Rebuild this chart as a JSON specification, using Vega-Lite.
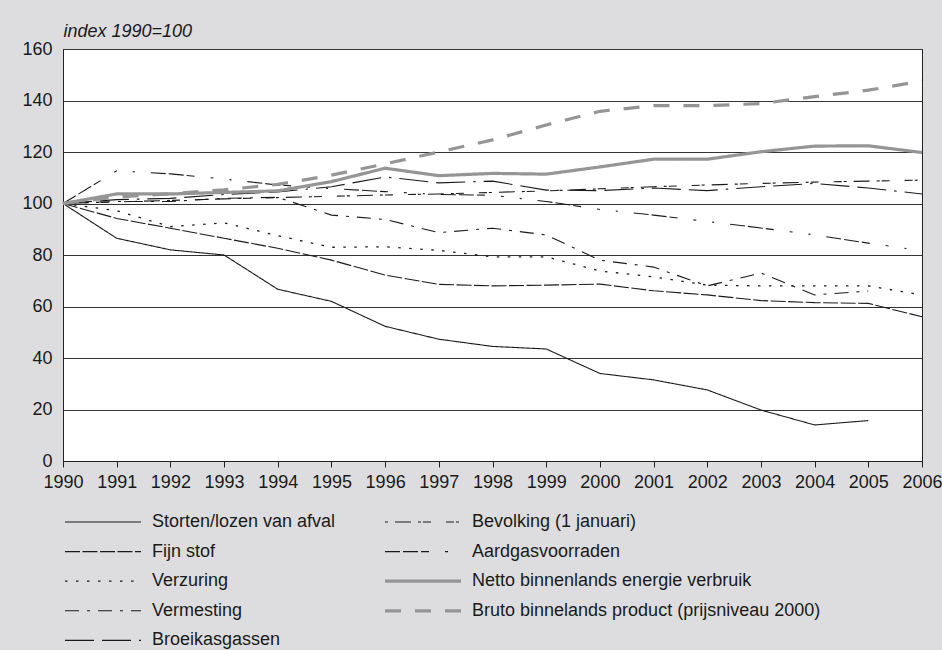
{
  "$schema": "https://vega.github.io/schema/vega-lite/v6.json",
  "width": 859,
  "height": 412,
  "autosize": {"type": "none"},
  "padding": {"left": 63, "top": 49, "right": 20, "bottom": 189},
  "background": "#dddddf",
  "config": {
    "font": "Liberation Sans",
    "view": {"fill": "white", "stroke": "#222222", "strokeWidth": 1}
  },
  "datasets": {
    "d": [
      {"s": "Storten/lozen van afval", "yr": 1990, "v": 100},
      {"s": "Storten/lozen van afval", "yr": 1991, "v": 86.5},
      {"s": "Storten/lozen van afval", "yr": 1992, "v": 82},
      {"s": "Storten/lozen van afval", "yr": 1993, "v": 80},
      {"s": "Storten/lozen van afval", "yr": 1994, "v": 66.7},
      {"s": "Storten/lozen van afval", "yr": 1995, "v": 62},
      {"s": "Storten/lozen van afval", "yr": 1996, "v": 52.3},
      {"s": "Storten/lozen van afval", "yr": 1997, "v": 47.3},
      {"s": "Storten/lozen van afval", "yr": 1998, "v": 44.5},
      {"s": "Storten/lozen van afval", "yr": 1999, "v": 43.5},
      {"s": "Storten/lozen van afval", "yr": 2000, "v": 34},
      {"s": "Storten/lozen van afval", "yr": 2001, "v": 31.5},
      {"s": "Storten/lozen van afval", "yr": 2002, "v": 27.6},
      {"s": "Storten/lozen van afval", "yr": 2003, "v": 19.8},
      {"s": "Storten/lozen van afval", "yr": 2004, "v": 14},
      {"s": "Storten/lozen van afval", "yr": 2005, "v": 15.7},

      {"s": "Fijn stof", "yr": 1990, "v": 100},
      {"s": "Fijn stof", "yr": 1991, "v": 94.2},
      {"s": "Fijn stof", "yr": 1992, "v": 90.4},
      {"s": "Fijn stof", "yr": 1993, "v": 86.5},
      {"s": "Fijn stof", "yr": 1994, "v": 82.6},
      {"s": "Fijn stof", "yr": 1995, "v": 78},
      {"s": "Fijn stof", "yr": 1996, "v": 72.2},
      {"s": "Fijn stof", "yr": 1997, "v": 68.6},
      {"s": "Fijn stof", "yr": 1998, "v": 68},
      {"s": "Fijn stof", "yr": 1999, "v": 68.3},
      {"s": "Fijn stof", "yr": 2000, "v": 68.7},
      {"s": "Fijn stof", "yr": 2001, "v": 66.1},
      {"s": "Fijn stof", "yr": 2002, "v": 64.5},
      {"s": "Fijn stof", "yr": 2003, "v": 62.3},
      {"s": "Fijn stof", "yr": 2004, "v": 61.5},
      {"s": "Fijn stof", "yr": 2005, "v": 61.2},
      {"s": "Fijn stof", "yr": 2006, "v": 56},

      {"s": "Verzuring", "yr": 1990, "v": 100},
      {"s": "Verzuring", "yr": 1991, "v": 97.2},
      {"s": "Verzuring", "yr": 1992, "v": 91},
      {"s": "Verzuring", "yr": 1993, "v": 92.5},
      {"s": "Verzuring", "yr": 1994, "v": 87.5},
      {"s": "Verzuring", "yr": 1995, "v": 83},
      {"s": "Verzuring", "yr": 1996, "v": 83.2},
      {"s": "Verzuring", "yr": 1997, "v": 81.8},
      {"s": "Verzuring", "yr": 1998, "v": 79.3},
      {"s": "Verzuring", "yr": 1999, "v": 79.3},
      {"s": "Verzuring", "yr": 2000, "v": 73.8},
      {"s": "Verzuring", "yr": 2001, "v": 71.5},
      {"s": "Verzuring", "yr": 2002, "v": 68.3},
      {"s": "Verzuring", "yr": 2003, "v": 68},
      {"s": "Verzuring", "yr": 2004, "v": 68},
      {"s": "Verzuring", "yr": 2005, "v": 68},
      {"s": "Verzuring", "yr": 2006, "v": 64.5},

      {"s": "Vermesting", "yr": 1990, "v": 100},
      {"s": "Vermesting", "yr": 1991, "v": 100.8},
      {"s": "Vermesting", "yr": 1992, "v": 100.8},
      {"s": "Vermesting", "yr": 1993, "v": 102},
      {"s": "Vermesting", "yr": 1994, "v": 102.4},
      {"s": "Vermesting", "yr": 1995, "v": 95.5},
      {"s": "Vermesting", "yr": 1996, "v": 93.8},
      {"s": "Vermesting", "yr": 1997, "v": 88.7},
      {"s": "Vermesting", "yr": 1998, "v": 90.4},
      {"s": "Vermesting", "yr": 1999, "v": 87.8},
      {"s": "Vermesting", "yr": 2000, "v": 78},
      {"s": "Vermesting", "yr": 2001, "v": 75.3},
      {"s": "Vermesting", "yr": 2002, "v": 68},
      {"s": "Vermesting", "yr": 2003, "v": 73},
      {"s": "Vermesting", "yr": 2004, "v": 64.5},
      {"s": "Vermesting", "yr": 2005, "v": 66},

      {"s": "Broeikasgassen", "yr": 1990, "v": 100},
      {"s": "Broeikasgassen", "yr": 1991, "v": 101.5},
      {"s": "Broeikasgassen", "yr": 1992, "v": 102},
      {"s": "Broeikasgassen", "yr": 1993, "v": 103.5},
      {"s": "Broeikasgassen", "yr": 1994, "v": 104.5},
      {"s": "Broeikasgassen", "yr": 1995, "v": 106.5},
      {"s": "Broeikasgassen", "yr": 1996, "v": 110.3},
      {"s": "Broeikasgassen", "yr": 1997, "v": 108},
      {"s": "Broeikasgassen", "yr": 1998, "v": 108.7},
      {"s": "Broeikasgassen", "yr": 1999, "v": 105.2},
      {"s": "Broeikasgassen", "yr": 2000, "v": 105},
      {"s": "Broeikasgassen", "yr": 2001, "v": 106},
      {"s": "Broeikasgassen", "yr": 2002, "v": 105},
      {"s": "Broeikasgassen", "yr": 2003, "v": 106.5},
      {"s": "Broeikasgassen", "yr": 2004, "v": 107.8},
      {"s": "Broeikasgassen", "yr": 2005, "v": 106},
      {"s": "Broeikasgassen", "yr": 2006, "v": 103.7},

      {"s": "Bevolking (1 januari)", "yr": 1990, "v": 100},
      {"s": "Bevolking (1 januari)", "yr": 1991, "v": 100.6},
      {"s": "Bevolking (1 januari)", "yr": 1992, "v": 101.2},
      {"s": "Bevolking (1 januari)", "yr": 1993, "v": 101.8},
      {"s": "Bevolking (1 januari)", "yr": 1994, "v": 102.3},
      {"s": "Bevolking (1 januari)", "yr": 1995, "v": 102.8},
      {"s": "Bevolking (1 januari)", "yr": 1996, "v": 103.3},
      {"s": "Bevolking (1 januari)", "yr": 1997, "v": 103.7},
      {"s": "Bevolking (1 januari)", "yr": 1998, "v": 104.3},
      {"s": "Bevolking (1 januari)", "yr": 1999, "v": 104.9},
      {"s": "Bevolking (1 januari)", "yr": 2000, "v": 105.7},
      {"s": "Bevolking (1 januari)", "yr": 2001, "v": 106.5},
      {"s": "Bevolking (1 januari)", "yr": 2002, "v": 107.2},
      {"s": "Bevolking (1 januari)", "yr": 2003, "v": 107.8},
      {"s": "Bevolking (1 januari)", "yr": 2004, "v": 108.3},
      {"s": "Bevolking (1 januari)", "yr": 2005, "v": 108.7},
      {"s": "Bevolking (1 januari)", "yr": 2006, "v": 109.1},

      {"s": "Aardgasvoorraden", "yr": 1990, "v": 100},
      {"s": "Aardgasvoorraden", "yr": 1991, "v": 112.7},
      {"s": "Aardgasvoorraden", "yr": 1992, "v": 111.5},
      {"s": "Aardgasvoorraden", "yr": 1993, "v": 109.5},
      {"s": "Aardgasvoorraden", "yr": 1994, "v": 107.2},
      {"s": "Aardgasvoorraden", "yr": 1995, "v": 105.8},
      {"s": "Aardgasvoorraden", "yr": 1996, "v": 104.6},
      {"s": "Aardgasvoorraden", "yr": 1997, "v": 103.5},
      {"s": "Aardgasvoorraden", "yr": 1998, "v": 103.2},
      {"s": "Aardgasvoorraden", "yr": 1999, "v": 100.8},
      {"s": "Aardgasvoorraden", "yr": 2000, "v": 97.7},
      {"s": "Aardgasvoorraden", "yr": 2001, "v": 95.5},
      {"s": "Aardgasvoorraden", "yr": 2002, "v": 93},
      {"s": "Aardgasvoorraden", "yr": 2003, "v": 90.5},
      {"s": "Aardgasvoorraden", "yr": 2004, "v": 87.8},
      {"s": "Aardgasvoorraden", "yr": 2005, "v": 84.6},
      {"s": "Aardgasvoorraden", "yr": 2006, "v": 81.7},

      {"s": "Netto binnenlands energie verbruik", "yr": 1990, "v": 100},
      {"s": "Netto binnenlands energie verbruik", "yr": 1991, "v": 103.7},
      {"s": "Netto binnenlands energie verbruik", "yr": 1992, "v": 103.7},
      {"s": "Netto binnenlands energie verbruik", "yr": 1993, "v": 104.3},
      {"s": "Netto binnenlands energie verbruik", "yr": 1994, "v": 104.9},
      {"s": "Netto binnenlands energie verbruik", "yr": 1995, "v": 108.5},
      {"s": "Netto binnenlands energie verbruik", "yr": 1996, "v": 113.7},
      {"s": "Netto binnenlands energie verbruik", "yr": 1997, "v": 110.8},
      {"s": "Netto binnenlands energie verbruik", "yr": 1998, "v": 111.7},
      {"s": "Netto binnenlands energie verbruik", "yr": 1999, "v": 111.4},
      {"s": "Netto binnenlands energie verbruik", "yr": 2000, "v": 114.2},
      {"s": "Netto binnenlands energie verbruik", "yr": 2001, "v": 117.2},
      {"s": "Netto binnenlands energie verbruik", "yr": 2002, "v": 117.2},
      {"s": "Netto binnenlands energie verbruik", "yr": 2003, "v": 120.1},
      {"s": "Netto binnenlands energie verbruik", "yr": 2004, "v": 122.3},
      {"s": "Netto binnenlands energie verbruik", "yr": 2005, "v": 122.4},
      {"s": "Netto binnenlands energie verbruik", "yr": 2006, "v": 119.8},

      {"s": "Bruto binnelands product (prijsniveau 2000)", "yr": 1990, "v": 100},
      {"s": "Bruto binnelands product (prijsniveau 2000)", "yr": 1991, "v": 102.5},
      {"s": "Bruto binnelands product (prijsniveau 2000)", "yr": 1992, "v": 103.8},
      {"s": "Bruto binnelands product (prijsniveau 2000)", "yr": 1993, "v": 105.3},
      {"s": "Bruto binnelands product (prijsniveau 2000)", "yr": 1994, "v": 107.4},
      {"s": "Bruto binnelands product (prijsniveau 2000)", "yr": 1995, "v": 111},
      {"s": "Bruto binnelands product (prijsniveau 2000)", "yr": 1996, "v": 115.4},
      {"s": "Bruto binnelands product (prijsniveau 2000)", "yr": 1997, "v": 120},
      {"s": "Bruto binnelands product (prijsniveau 2000)", "yr": 1998, "v": 124.7},
      {"s": "Bruto binnelands product (prijsniveau 2000)", "yr": 1999, "v": 130.5},
      {"s": "Bruto binnelands product (prijsniveau 2000)", "yr": 2000, "v": 135.8},
      {"s": "Bruto binnelands product (prijsniveau 2000)", "yr": 2001, "v": 138},
      {"s": "Bruto binnelands product (prijsniveau 2000)", "yr": 2002, "v": 138},
      {"s": "Bruto binnelands product (prijsniveau 2000)", "yr": 2003, "v": 138.8},
      {"s": "Bruto binnelands product (prijsniveau 2000)", "yr": 2004, "v": 141.5},
      {"s": "Bruto binnelands product (prijsniveau 2000)", "yr": 2005, "v": 144},
      {"s": "Bruto binnelands product (prijsniveau 2000)", "yr": 2006, "v": 147.6}
    ]
  },
  "data": {"name": "d"},
  "mark": {"type": "line", "strokeCap": "butt", "strokeJoin": "miter"},
  "encoding": {
    "x": {
      "field": "yr",
      "type": "quantitative",
      "scale": {"domain": [1990, 2006], "nice": false, "zero": false},
      "axis": {
        "title": null,
        "values": [1990,1991,1992,1993,1994,1995,1996,1997,1998,1999,2000,2001,2002,2003,2004,2005,2006],
        "format": "d",
        "grid": false,
        "domainColor": "#222222",
        "tickColor": "#222222",
        "tickSize": 6,
        "labelFontSize": 18,
        "labelColor": "#1a1a1a",
        "labelPadding": 6,
        "labelFlush": false,
        "labelOverlap": false
      }
    },
    "y": {
      "field": "v",
      "type": "quantitative",
      "scale": {"domain": [0, 160], "nice": false},
      "axis": {
        "title": "index 1990=100",
        "titleAngle": 0,
        "titleAlign": "left",
        "titleBaseline": "alphabetic",
        "titleX": 0,
        "titleY": -13,
        "titleFontStyle": "italic",
        "titleFontWeight": "normal",
        "titleFontSize": 18,
        "titleColor": "#1a1a1a",
        "values": [0, 20, 40, 60, 80, 100, 120, 140, 160],
        "grid": true,
        "gridColor": "#333333",
        "gridWidth": 1,
        "ticks": false,
        "domainColor": "#222222",
        "labelFontSize": 18,
        "labelColor": "#1a1a1a",
        "labelPadding": 11
      }
    },
    "color": {
      "field": "s",
      "type": "nominal",
      "scale": {
        "domain": [
          "Storten/lozen van afval",
          "Fijn stof",
          "Verzuring",
          "Vermesting",
          "Broeikasgassen",
          "Bevolking (1 januari)",
          "Aardgasvoorraden",
          "Netto binnenlands energie verbruik",
          "Bruto binnelands product (prijsniveau 2000)"
        ],
        "range": ["#1a1a1a", "#1a1a1a", "#1a1a1a", "#1a1a1a", "#1a1a1a", "#1a1a1a", "#1a1a1a", "#959595", "#959595"]
      },
      "legend": {
        "title": null,
        "orient": "none",
        "legendX": 0,
        "legendY": 463,
        "columns": 2,
        "symbolType": "stroke",
        "symbolSize": 5776,
        "symbolStrokeWidth": 1.4,
        "clipHeight": 20,
        "labelFontSize": 18,
        "labelColor": "#1a1a1a",
        "labelOffset": 9,
        "columnPadding": 47,
        "rowPadding": 9.6,
        "labelLimit": 600
      }
    },
    "strokeDash": {
      "field": "s",
      "type": "nominal",
      "scale": {
        "domain": [
          "Storten/lozen van afval",
          "Fijn stof",
          "Verzuring",
          "Vermesting",
          "Broeikasgassen",
          "Bevolking (1 januari)",
          "Aardgasvoorraden",
          "Netto binnenlands energie verbruik",
          "Bruto binnelands product (prijsniveau 2000)"
        ],
        "range": [[1, 0], [15, 2.5], [2.5, 8.5], [14, 8, 3, 8], [29, 8, 29, 8, 2.5, 8], [3, 7, 16, 7, 3, 2, 8, 15, 8, 2], [15, 3, 15, 3, 8, 16, 3, 16, 2, 16], [1, 0], [16, 14]]
      }
    },
    "strokeWidth": {
      "field": "s",
      "type": "ordinal",
      "scale": {
        "type": "ordinal",
        "domain": [
          "Storten/lozen van afval",
          "Fijn stof",
          "Verzuring",
          "Vermesting",
          "Broeikasgassen",
          "Bevolking (1 januari)",
          "Aardgasvoorraden",
          "Netto binnenlands energie verbruik",
          "Bruto binnelands product (prijsniveau 2000)"
        ],
        "range": [1.1, 1.1, 1.3, 1.1, 1.1, 1.1, 1.1, 3.2, 3.2]
      }
    }
  }
}
